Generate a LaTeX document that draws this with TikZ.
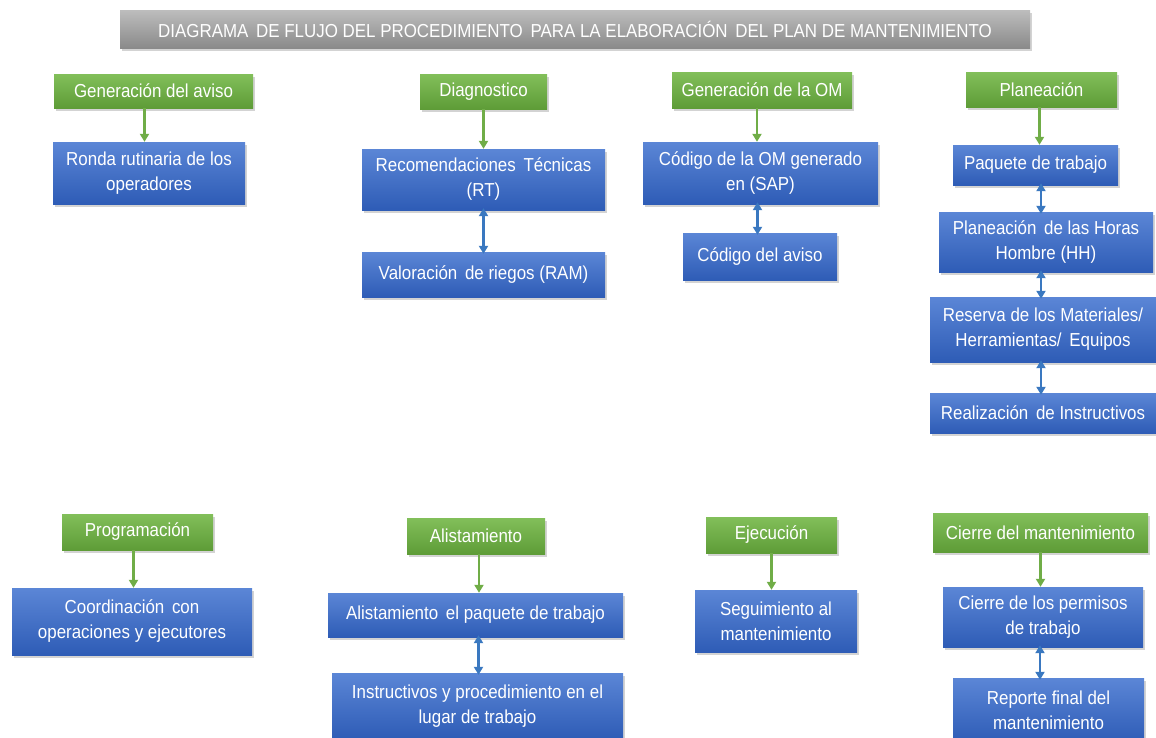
\documentclass[tikz,border=0pt]{standalone}
\usepackage{fontspec}
\setmainfont{Liberation Sans}[FakeStretch=0.9]
\usetikzlibrary{arrows.meta,shadows,shadings}
\definecolor{gtop}{HTML}{82BF5A}
\definecolor{gbot}{HTML}{5E9C37}
\definecolor{btop}{HTML}{5B86D6}
\definecolor{bbot}{HTML}{2E5CB6}
\definecolor{ttop}{HTML}{BDBDBD}
\definecolor{tbot}{HTML}{8A8A8A}
\definecolor{garr}{HTML}{70AD47}
\definecolor{barr}{HTML}{3A78C0}
\newcommand{\wsp}{\ \hspace{3pt}}
\tikzset{
  box/.style={rectangle, inner sep=2pt, align=center, text=white,
    font=\fontsize{18.8}{25}\selectfont,
    drop shadow={opacity=0.35, shadow xshift=1.5pt, shadow yshift=-2.5pt}},
  gbox/.style={box, top color=gtop, bottom color=gbot},
  bbox/.style={box, top color=btop, bottom color=bbot},
  tbox/.style={box, top color=ttop, bottom color=tbot},
  garrow/.style={draw=garr, line width=2.2pt, -{Triangle[length=8pt,width=9pt]}},
  barrow/.style={draw=barr, line width=2.2pt, {Triangle[length=8pt,width=9pt]}-{Triangle[length=8pt,width=9pt]}},
}
\begin{document}
\begin{tikzpicture}[x=1pt,y=-1pt]
\useasboundingbox (0,0) rectangle (1156,737);
% title
\node[tbox, minimum width=910pt, minimum height=38pt] (title) at (575,29) {DIAGRAMA\wsp DE FLUJO DEL PROCEDIMIENTO\wsp PARA LA ELABORACIÓN\wsp DEL PLAN DE MANTENIMIENTO};
% green headers
\node[gbox, minimum width=199pt, minimum height=34pt] (g1) at (153.5,91) {Generación del aviso};
\node[gbox, minimum width=127pt, minimum height=35pt] (g2) at (483.5,91.5) {Diagnostico};
\node[gbox, minimum width=180pt, minimum height=36pt] (g3) at (762,90) {Generación de la OM};
\node[gbox, minimum width=151pt, minimum height=35pt] (g4) at (1041.5,89.5) {Planeación};
\node[gbox, minimum width=151pt, minimum height=36pt] (g5) at (137.5,532) {Programación};
\node[gbox, minimum width=138pt, minimum height=36pt] (g6) at (476,536) {Alistamiento};
\node[gbox, minimum width=131pt, minimum height=36pt] (g7) at (771.5,535) {Ejecución};
\node[gbox, minimum width=215pt, minimum height=39pt] (g8) at (1040.5,532.5) {Cierre del mantenimiento};
% blue boxes
\node[bbox, minimum width=192pt, minimum height=62pt] (b1) at (149,173) {Ronda rutinaria de los\\operadores};
\node[bbox, minimum width=243pt, minimum height=61pt] (b2) at (483.5,179.5) {Recomendaciones\wsp Técnicas\\(RT)};
\node[bbox, minimum width=243pt, minimum height=45pt] (b3) at (483.5,274.5) {Valoración\wsp de riegos (RAM)};
\node[bbox, minimum width=235pt, minimum height=62pt] (b4) at (760.5,173) {Código de la OM generado\\en (SAP)};
\node[bbox, minimum width=154pt, minimum height=47pt] (b5) at (760,256.5) {Código del aviso};
\node[bbox, minimum width=165pt, minimum height=40pt] (b6) at (1035.5,165) {Paquete de trabajo};
\node[bbox, minimum width=214pt, minimum height=60pt] (b7) at (1046,242) {Planeación\wsp de las Horas\\Hombre (HH)};
\node[bbox, minimum width=226pt, minimum height=65pt] (b8) at (1043,329.5) {Reserva de los Materiales/\\Herramientas/\wsp Equipos};
\node[bbox, minimum width=226pt, minimum height=40pt] (b9) at (1043,413) {Realización\wsp de Instructivos};
\node[bbox, minimum width=240pt, minimum height=67pt] (b10) at (132,621.5) {Coordinación\wsp con\\operaciones y ejecutores};
\node[bbox, minimum width=295pt, minimum height=44pt] (b11) at (475.5,615) {Alistamiento\wsp el paquete de trabajo};
\node[bbox, minimum width=291pt, minimum height=66pt] (b12) at (477.5,706) {Instructivos y procedimiento en el\\lugar de trabajo};
\node[bbox, minimum width=162pt, minimum height=62pt] (b13) at (776,621) {Seguimiento al\\mantenimiento};
\node[bbox, minimum width=200pt, minimum height=60pt] (b14) at (1043,617) {Cierre de los permisos\\de trabajo};
\node[bbox, minimum width=191pt, minimum height=64pt] (b15) at (1048.5,710) {Reporte final del\\mantenimiento};
% green arrows
\draw[garrow] ([xshift=-9pt]g1.south) -- ([xshift=-9pt]g1.south |- b1.north);
\draw[garrow] (g2.south) -- (g2.south |- b2.north);
\draw[garrow] ([xshift=-5pt]g3.south) -- ([xshift=-5pt]g3.south |- b4.north);
\draw[garrow] ([xshift=-2pt]g4.south) -- ([xshift=-2pt]g4.south |- b6.north);
\draw[garrow] ([xshift=-4pt]g5.south) -- ([xshift=-4pt]g5.south |- b10.north);
\draw[garrow] ([xshift=3pt]g6.south) -- ([xshift=3pt]g6.south |- b11.north);
\draw[garrow] (g7.south) -- (g7.south |- b13.north);
\draw[garrow] (g8.south) -- (g8.south |- b14.north);
% blue double arrows
\draw[barrow] ([yshift=2pt]b2.south) -- ([yshift=-2pt]b2.south |- b3.north);
\draw[barrow] ([xshift=-3pt,yshift=2pt]b4.south) -- ([xshift=-3pt,yshift=-2pt]b4.south |- b5.north);
\draw[barrow] ([xshift=5.5pt,yshift=2pt]b6.south) -- ([xshift=5.5pt,yshift=-2pt]b6.south |- b7.north);
\draw[barrow] ([xshift=-5pt,yshift=2pt]b7.south) -- ([xshift=-5pt,yshift=-2pt]b7.south |- b8.north);
\draw[barrow] ([xshift=-2pt,yshift=2pt]b8.south) -- ([xshift=-2pt,yshift=-2pt]b8.south |- b9.north);
\draw[barrow] ([xshift=3pt,yshift=2pt]b11.south) -- ([xshift=3pt,yshift=-2pt]b11.south |- b12.north);
\draw[barrow] ([xshift=-3pt,yshift=2pt]b14.south) -- ([xshift=-3pt,yshift=-2pt]b14.south |- b15.north);
\end{tikzpicture}
\end{document}
